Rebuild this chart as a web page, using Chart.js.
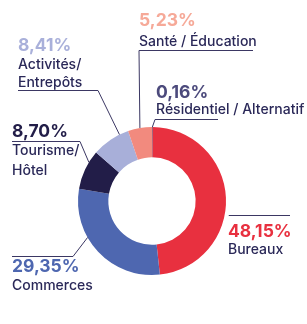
<!DOCTYPE html>
<html><head><meta charset="utf-8">
<script src="https://cdn.jsdelivr.net/npm/chart.js@4/dist/chart.umd.min.js"></script>
<style>html,body{margin:0;padding:0;background:#fff}#wrap{width:307px;height:324px;position:relative}</style>
</head><body><div id="wrap"><canvas id="c"></canvas></div>
<script>
const categories = ["Résidentiel / Alternatif","Bureaux","Commerces","Tourisme/ Hôtel","Activités/ Entrepôts","Santé / Éducation"];
const values = [0.16, 48.15, 29.35, 8.70, 8.41, 5.23];
const percentLabels = ["0,16%","48,15%","29,35%","8,70%","8,41%","5,23%"];
const sliceColors = ["#4a4570","#e8303f","#4e67b0","#221d48","#a8afd9","#f28a7e"];
const percentColors = ["#4c4a7c","#e8303f","#4e67b0","#221d48","#a9b0da","#f6a998"];
const labelLines = [["Résidentiel / Alternatif"],["Bureaux"],["Commerces"],["Tourisme/","Hôtel"],["Activités/","Entrepôts"],["Santé / Éducation"]];

// annotation layout: text position, leader-line path and where on the arc it points
const layout = [
  {x:156, py:93,  ly:[110], line:[[218,119],[155,119]], frac:0.5},
  {x:228, py:232, ly:[250], line:[[290,215],[229,215]], frac:0.58, off:4},
  {x:12,  py:267, ly:[286], line:[[12,256],[73,256]], frac:0.63},
  {x:12,  py:132, ly:[151,171], line:[[12,141],[80,141]], frac:0.7},
  {x:18,  py:46,  ly:[65,83], line:[[18,90],[98,90]], frac:0.76},
  {x:139, py:21,  ly:[42], line:[[253,50],[139,50]], frac:0.5}
];

const annot = {
  id:'annot',
  afterDraw(chart){
    const ctx = chart.ctx;
    const meta = chart.getDatasetMeta(0);
    ctx.save();
    meta.data.forEach((arc,i)=>{
      const L = layout[i];
      const p = arc.getProps(['x','y','startAngle','endAngle','outerRadius'],true);
      const a = p.startAngle + (p.endAngle-p.startAngle)*L.frac;
      const r = p.outerRadius + (L.off||0);
      const ax = p.x + Math.cos(a)*r, ay = p.y + Math.sin(a)*r;
      ctx.strokeStyle = '#3b3763'; ctx.lineWidth = 1;
      ctx.beginPath();
      ctx.moveTo(L.line[0][0], L.line[0][1]+0.5);
      for (let k=1;k<L.line.length;k++) ctx.lineTo(L.line[k][0], L.line[k][1]+0.5);
      ctx.lineTo(ax, ay);
      ctx.stroke();
      ctx.textBaseline = 'middle'; ctx.textAlign='left';
      ctx.font = '700 17.5px Inter, "DejaVu Sans", sans-serif';
      ctx.fillStyle = percentColors[i];
      ctx.fillText(percentLabels[i], L.x, L.py);
      ctx.font = '500 14px Inter, "DejaVu Sans", sans-serif';
      ctx.fillStyle = '#2a2858';
      labelLines[i].forEach((t,j)=>ctx.fillText(t, L.x, L.ly[j]));
    });
    ctx.restore();
  }
};

new Chart(document.getElementById('c'), {
  type:'doughnut',
  data:{labels:categories, datasets:[{data:values, backgroundColor:sliceColors, borderWidth:0}]},
  options:{
    responsive:true, maintainAspectRatio:false, animation:false,
    cutout:'59%',
    layout:{padding:{left:78,right:81,top:127,bottom:49}},
    plugins:{legend:{display:false},tooltip:{enabled:false}}
  },
  plugins:[annot]
});
</script></body></html>
